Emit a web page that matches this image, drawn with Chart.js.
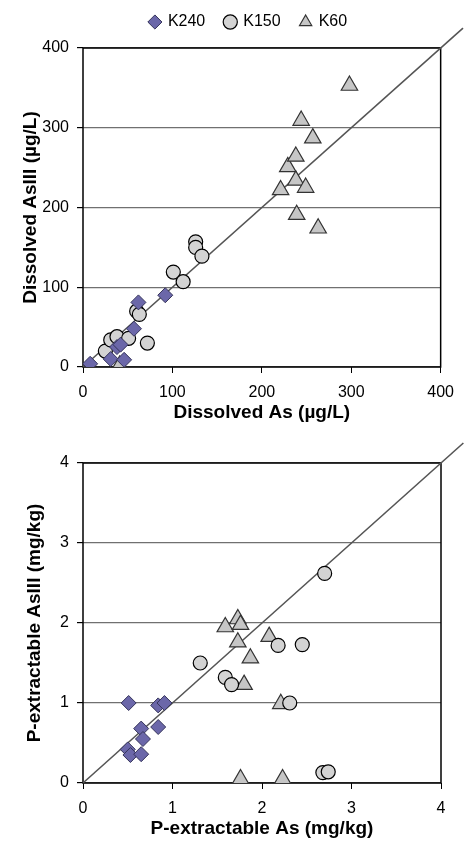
<!DOCTYPE html>
<html>
<head>
<meta charset="utf-8">
<script src="https://cdn.jsdelivr.net/npm/chart.js@4.4.0/dist/chart.umd.min.js"></script>
<style>
  html, body { margin: 0; padding: 0; background: #fff; overflow: hidden; }
  .box { position: absolute; left: 0; width: 464px; height: 430px; }
  #boxTop { top: 0; }
  #boxBottom { top: 416px; }
</style>
</head>
<body>
<div class="box" id="boxTop"><canvas id="chartTop"></canvas></div>
<div class="box" id="boxBottom"><canvas id="chartBottom"></canvas></div>
<script>
// Series names
const seriesNames = ['K240', 'K150', 'K60'];

// Top chart: dissolved As vs dissolved AsIII (µg/L)
const k240AsTop   = [8, 31, 46, 38, 42, 57, 62, 92];
const k240AsIIITop = [4, 10, 9, 25, 28, 48, 81, 90];
const k150AsTop   = [25, 31, 38, 51, 72, 60, 63, 101, 112, 126, 126, 133];
const k150AsIIITop = [20, 34, 38, 36, 30, 70, 66, 119, 107, 157, 150, 139];
const k60AsTop    = [41, 221, 229, 238, 238, 244, 249, 239, 257, 263, 298];
const k60AsIIITop  = [2, 222, 251, 264, 234, 309, 225, 191, 287, 174, 353];
const oneToOneTop = [0, 425];
const ticksTop = [0, 100, 200, 300, 400];

// Bottom chart: P-extractable As vs AsIII (mg/kg)
const k240AsBot   = [0.51, 0.84, 0.91, 0.65, 0.84, 0.67, 0.50, 0.53, 0.65];
const k240AsIIIBot = [1.00, 0.97, 1.00, 0.68, 0.70, 0.55, 0.42, 0.35, 0.36];
const k150AsBot   = [2.70, 2.18, 2.45, 1.31, 1.59, 1.66, 2.31, 2.68, 2.74];
const k150AsIIIBot = [2.62, 1.72, 1.73, 1.50, 1.32, 1.23, 1.00, 0.13, 0.14];
const k60AsBot    = [1.59, 1.73, 1.76, 1.73, 2.08, 1.87, 1.80, 2.21, 1.76, 2.23];
const k60AsIIIBot  = [1.95, 2.05, 1.98, 1.76, 1.83, 1.56, 1.23, 0.99, 0.05, 0.05];
const oneToOneBot = [0, 4.25];
const ticksBot = [0, 1, 2, 3, 4];

Chart.defaults.font.family = '"Liberation Sans", Arial, sans-serif';
Chart.defaults.color = '#000';

function pairs(xs, ys) {
    return xs.map((x, i) => ({ x: x, y: ys[i] }));
}

// Black frame round the plot area
const plotFrame = {
    id: 'plotFrame',
    beforeDatasetsDraw(chart) {
        const { ctx, chartArea: a } = chart;
        ctx.save();
        ctx.strokeStyle = '#000';
        ctx.lineWidth = 1.5;
        ctx.strokeRect(a.left, a.top, a.right - a.left, a.bottom - a.top);
        ctx.restore();
    }
};

// Move legend a bit right and up
const legendNudge = {
    id: 'legendNudge',
    afterLayout(chart) {
        const lg = chart.legend;
        if (!lg || !chart.options.plugins.legend.display) return;
        lg.left += 28; lg.right += 28;
        lg.top -= 8; lg.bottom -= 8;
    }
};

function buildDatasets(k240x, k240y, k150x, k150y, k60x, k60y, line) {
    return [
        {
            label: seriesNames[0],
            data: pairs(k240x, k240y),
            pointStyle: 'rectRot',
            pointRadius: 7.5,
            backgroundColor: '#6B67A9',
            borderColor: '#35345a',
            borderWidth: 1,
            order: 1
        },
        {
            label: seriesNames[1],
            data: pairs(k150x, k150y),
            pointStyle: 'circle',
            pointRadius: 7,
            backgroundColor: '#D3D3D3',
            borderColor: '#000',
            borderWidth: 1.2,
            order: 1
        },
        {
            label: seriesNames[2],
            data: pairs(k60x, k60y),
            pointStyle: 'triangle',
            pointRadius: 9.5,
            backgroundColor: '#C6C6C6',
            borderColor: '#333',
            borderWidth: 1.2,
            order: 1
        },
        {
            label: '1:1',
            data: pairs(line, line),
            showLine: true,
            pointRadius: 0,
            borderColor: '#555',
            borderWidth: 1.6,
            clip: false,
            order: 10
        }
    ];
}

function makeChart(canvasId, datasets, ticks, xTitle, yTitle, withLegend, yTitlePad, topPad) {
    return new Chart(document.getElementById(canvasId), {
        type: 'scatter',
        data: { datasets: datasets },
        options: {
            responsive: true,
            maintainAspectRatio: false,
            animation: false,
            layout: { padding: { top: topPad, right: 23, bottom: 0, left: 0 } },
            plugins: {
                tooltip: { enabled: false },
                legend: {
                    display: withLegend,
                    position: 'top',
                    labels: {
                        usePointStyle: true,
                        boxWidth: 10,
                        boxHeight: 10,
                        padding: 20,
                        font: { size: 16 },
                        color: '#000',
                        filter: item => item.datasetIndex < 3
                    }
                }
            },
            scales: {
                x: {
                    type: 'linear',
                    min: ticks[0],
                    max: ticks[ticks.length - 1],
                    afterBuildTicks: scale => { scale.ticks = ticks.map(v => ({ value: v })); },
                    afterFit: scale => { scale.height = 63; },
                    ticks: { font: { size: 16 }, color: '#000', padding: 10, maxRotation: 0 },
                    grid: { drawOnChartArea: false, drawTicks: true, tickLength: 6, tickColor: '#000' },
                    border: { display: false },
                    title: {
                        display: true,
                        text: xTitle,
                        font: { size: 19, weight: 'bold' },
                        color: '#000',
                        padding: { top: 0, bottom: 6 }
                    }
                },
                y: {
                    type: 'linear',
                    min: ticks[0],
                    max: ticks[ticks.length - 1],
                    afterBuildTicks: scale => { scale.ticks = ticks.map(v => ({ value: v })); },
                    afterFit: scale => { scale.width = 83; },
                    ticks: { font: { size: 16 }, color: '#000', padding: 8 },
                    grid: { color: '#707070', lineWidth: 1.2, tickLength: 6, tickColor: '#000' },
                    border: { display: false },
                    title: {
                        display: true,
                        text: yTitle,
                        font: { size: 19, weight: 'bold' },
                        color: '#000',
                        padding: { top: yTitlePad, bottom: 0 }
                    }
                }
            }
        },
        plugins: [plotFrame, legendNudge]
    });
}

makeChart('chartTop',
    buildDatasets(k240AsTop, k240AsIIITop, k150AsTop, k150AsIIITop, k60AsTop, k60AsIIITop, oneToOneTop),
    ticksTop, 'Dissolved As (µg/L)', 'Dissolved AsIII (µg/L)', true, 19, 2);

makeChart('chartBottom',
    buildDatasets(k240AsBot, k240AsIIIBot, k150AsBot, k150AsIIIBot, k60AsBot, k60AsIIIBot, oneToOneBot),
    ticksBot, 'P-extractable As (mg/kg)', 'P-extractable AsIII (mg/kg)', false, 23, 47);
</script>
</body>
</html>
